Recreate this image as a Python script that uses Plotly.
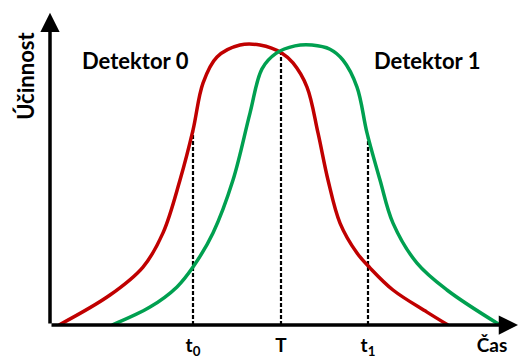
import plotly.graph_objects as go

# time axis (arbitrary units) and detection efficiency
red_t = [9, 60, 93, 113, 130, 143, 153, 167, 190, 210, 232, 243, 257, 268, 278, 290, 307, 320, 343, 377, 398]
red_eff = [0.0, 0.107, 0.207, 0.329, 0.518, 0.696, 0.864, 0.957, 1.0, 1.0, 0.971, 0.936, 0.85, 0.686, 0.518,
           0.364, 0.257, 0.204, 0.125, 0.046, 0.0]

green_t = [62, 100, 127, 143, 163, 183, 200, 212, 226, 245, 262, 280, 293, 307, 317, 330, 343, 367, 397, 450]
green_eff = [0.0, 0.064, 0.136, 0.207, 0.329, 0.518, 0.757, 0.915, 0.97, 0.997, 1.0, 0.985, 0.946, 0.85,
             0.686, 0.518, 0.364, 0.221, 0.125, 0.0]

marks_t = [143, 231, 318]
marks_top = [0.696, 0.975, 0.67]
tick_vals = [143, 231, 318, 442]
tick_text = ["<b>t<sub>0</sub></b>", "<b>T</b>", "<b>t<sub>1</sub></b>", "<b>Čas</b>"]

font = "Lato"

fig = go.Figure()

for t, top in zip(marks_t, marks_top):
    fig.add_trace(go.Scatter(x=[t, t], y=[0, top], mode="lines",
                             line=dict(color="black", width=2.2, dash="4px,2px"),
                             showlegend=False, hoverinfo="skip"))

fig.add_trace(go.Scatter(x=red_t, y=red_eff, mode="lines", line_shape="spline",
                         line=dict(color="#C00000", width=3.5), showlegend=False))
fig.add_trace(go.Scatter(x=green_t, y=green_eff, mode="lines", line_shape="spline",
                         line=dict(color="#00A050", width=3.5), showlegend=False))

# axes with arrow heads
fig.add_annotation(x=0, y=1.115, ax=0, ay=0, xref="x", yref="y", axref="x", ayref="y",
                   showarrow=True, arrowhead=2, arrowsize=1.1, arrowwidth=3.5, arrowcolor="black", text="")
fig.add_annotation(x=468, y=0, ax=0, ay=0, xref="x", yref="y", axref="x", ayref="y",
                   showarrow=True, arrowhead=2, arrowsize=1.1, arrowwidth=3.5, arrowcolor="black", text="")

fig.add_annotation(x=85, y=0.946, text="<b>Detektor 0</b>", showarrow=False,
                   font=dict(family=font, size=22, color="black"))
fig.add_annotation(x=377, y=0.946, text="<b>Detektor 1</b>", showarrow=False,
                   font=dict(family=font, size=22, color="black"))
fig.add_annotation(x=-0.052, y=0.795, xref="paper", yref="paper", text="<b>Účinnost</b>",
                   xanchor="center", yanchor="middle", showarrow=False, textangle=-90,
                   font=dict(family=font, size=22, color="black"))

fig.update_layout(
    width=520, height=358,
    margin=dict(l=50, r=2, t=12, b=33, autoexpand=False),
    paper_bgcolor="white", plot_bgcolor="white",
    xaxis=dict(range=[0, 468], showgrid=False, zeroline=False, showline=False, automargin=False,
               tickvals=tick_vals, ticktext=tick_text, ticks="outside", ticklen=3,
               tickcolor="rgba(0,0,0,0)", tickfont=dict(family=font, size=19, color="black")),
    yaxis=dict(range=[0, 1.118], showgrid=False, zeroline=False, showline=False,
               showticklabels=False, automargin=False),
)

fig.write_html("out.html", config={"displayModeBar": False},
               post_script="document.body.style.margin='0';")
